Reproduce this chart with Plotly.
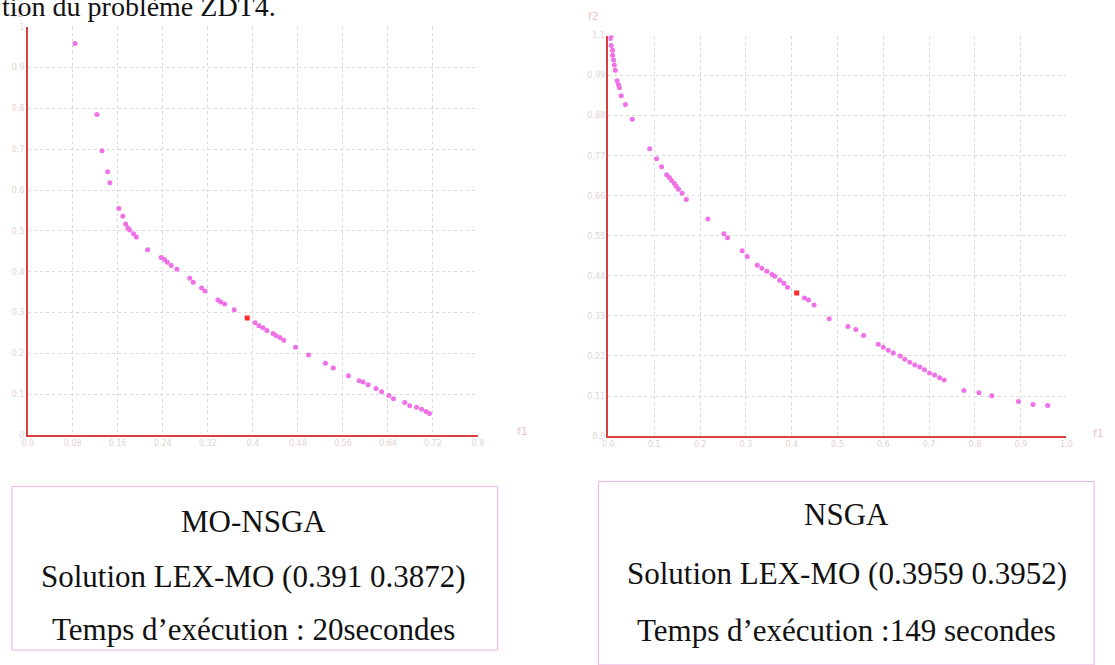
import plotly.graph_objects as go

W, H = 1115, 665

# ---------------- data ----------------
mo_f1 = [0.084, 0.123, 0.132, 0.142, 0.146, 0.162, 0.169, 0.174, 0.178, 0.181, 0.188, 0.193,
         0.213, 0.237, 0.243, 0.248, 0.255, 0.265, 0.288, 0.294, 0.309, 0.315, 0.338, 0.343,
         0.350, 0.367, 0.404, 0.411, 0.418, 0.425, 0.436, 0.441, 0.448, 0.455, 0.476, 0.499,
         0.529, 0.543, 0.570, 0.589, 0.596, 0.605, 0.619, 0.629, 0.642, 0.650, 0.670, 0.679,
         0.691, 0.700, 0.708, 0.714]
mo_f2 = [0.959, 0.785, 0.696, 0.645, 0.618, 0.555, 0.536, 0.517, 0.507, 0.502, 0.493, 0.485,
         0.454, 0.435, 0.430, 0.423, 0.415, 0.406, 0.384, 0.374, 0.360, 0.353, 0.331, 0.326,
         0.321, 0.307, 0.275, 0.268, 0.263, 0.256, 0.249, 0.244, 0.239, 0.232, 0.215, 0.196,
         0.176, 0.164, 0.145, 0.133, 0.130, 0.123, 0.114, 0.106, 0.097, 0.089, 0.080, 0.072,
         0.068, 0.063, 0.058, 0.053]
mo_lex = [0.390, 0.287]

ns_f1 = [0.006, 0.004, 0.006, 0.009, 0.009, 0.011, 0.013, 0.015, 0.019, 0.022, 0.024, 0.028,
         0.037, 0.052, 0.090, 0.105, 0.116, 0.127, 0.133, 0.138, 0.144, 0.148, 0.153, 0.161,
         0.170, 0.217, 0.252, 0.260, 0.292, 0.303, 0.325, 0.335, 0.346, 0.357, 0.363, 0.374,
         0.383, 0.391, 0.428, 0.437, 0.449, 0.482, 0.523, 0.540, 0.557, 0.589, 0.600, 0.611,
         0.622, 0.637, 0.647, 0.658, 0.669, 0.680, 0.690, 0.701, 0.712, 0.723, 0.733, 0.776,
         0.809, 0.837, 0.895, 0.927, 0.959]
ns_f2 = [1.100, 1.092, 1.073, 1.060, 1.046, 1.033, 1.019, 1.005, 0.976, 0.965, 0.957, 0.935,
         0.911, 0.870, 0.789, 0.762, 0.740, 0.718, 0.710, 0.702, 0.694, 0.686, 0.678, 0.667,
         0.650, 0.596, 0.556, 0.545, 0.509, 0.493, 0.469, 0.461, 0.453, 0.444, 0.439, 0.428,
         0.420, 0.409, 0.379, 0.374, 0.360, 0.322, 0.301, 0.293, 0.276, 0.252, 0.244, 0.236,
         0.228, 0.220, 0.211, 0.203, 0.195, 0.190, 0.182, 0.173, 0.168, 0.160, 0.154, 0.125,
         0.119, 0.111, 0.095, 0.087, 0.084]
ns_lex = [0.411, 0.393]

mo_xticks = [0.0, 0.08, 0.16, 0.24, 0.32, 0.4, 0.48, 0.56, 0.64, 0.72, 0.8]
mo_xlabels = ["0.0", "0.08", "0.16", "0.24", "0.32", "0.4", "0.48", "0.56", "0.64", "0.72", "0.8"]
mo_yticks = [0.0, 0.1, 0.2, 0.3, 0.4, 0.5, 0.6, 0.7, 0.8, 0.9, 1.0]
mo_ylabels = ["0", "0.1", "0.2", "0.3", "0.4", "0.5", "0.6", "0.7", "0.8", "0.9", "1"]
ns_xticks = [0.0, 0.1, 0.2, 0.3, 0.4, 0.5, 0.6, 0.7, 0.8, 0.9, 1.0]
ns_xlabels = ["0.0", "0.1", "0.2", "0.3", "0.4", "0.5", "0.6", "0.7", "0.8", "0.9", "1.0"]
ns_yticks = [0.0, 0.11, 0.22, 0.33, 0.44, 0.55, 0.66, 0.77, 0.88, 0.99, 1.1]
ns_ylabels = ["0.0", "0.11", "0.22", "0.33", "0.44", "0.55", "0.66", "0.77", "0.88", "0.99", "1.1"]

box_left = ["MO-NSGA", "Solution LEX-MO (0.391 0.3872)", "Temps d\u2019ex\u00e9cution : 20secondes"]
box_right = ["NSGA", "Solution LEX-MO (0.3959 0.3952)", "Temps d\u2019ex\u00e9cution :149 secondes"]
header = "tion du probl\u00e8me ZDT4."

# ---------------- helpers (pixel -> paper) ----------------
def px(x):
    return x / W

def py(y):
    return 1 - y / H

PT = "#f070e8"
RED = "#ff2a2a"
TICK = "#e2d2d2"
GRID = "#dadada"

fig = go.Figure()
fig.add_trace(go.Scatter(x=mo_f1, y=mo_f2, mode="markers", xaxis="x", yaxis="y",
                         marker=dict(color=PT, size=5, line=dict(width=0))))
fig.add_trace(go.Scatter(x=[mo_lex[0]], y=[mo_lex[1]], mode="markers", xaxis="x", yaxis="y",
                         marker=dict(color=RED, size=5, symbol="square", line=dict(width=0))))
fig.add_trace(go.Scatter(x=ns_f1, y=ns_f2, mode="markers", xaxis="x2", yaxis="y2",
                         marker=dict(color=PT, size=5, line=dict(width=0))))
fig.add_trace(go.Scatter(x=[ns_lex[0]], y=[ns_lex[1]], mode="markers", xaxis="x2", yaxis="y2",
                         marker=dict(color=RED, size=5, symbol="square", line=dict(width=0))))

axcommon = dict(showgrid=True, gridcolor=GRID, griddash="dot", gridwidth=1, zeroline=False,
                showline=True, linecolor="#d94040", linewidth=1.5, ticks="",
                tickfont=dict(family="DejaVu Sans", size=8, color=TICK))

fig.update_layout(
    width=W, height=H, margin=dict(l=0, r=0, t=0, b=0),
    paper_bgcolor="white", plot_bgcolor="white", showlegend=False,
    xaxis=dict(domain=[px(22), px(477)], range=[0, 0.8], tickvals=mo_xticks, ticktext=mo_xlabels,
               anchor="y", **axcommon),
    yaxis=dict(domain=[py(437), py(23)], range=[0, 1.0], tickvals=mo_yticks, ticktext=mo_ylabels,
               anchor="x", **axcommon),
    xaxis2=dict(domain=[px(609), px(1072)], range=[0, 1.0], tickvals=ns_xticks, ticktext=ns_xlabels,
                anchor="y2", **axcommon),
    yaxis2=dict(domain=[py(438), py(32)], range=[0, 1.1], tickvals=ns_yticks, ticktext=ns_ylabels,
                anchor="x2", **axcommon),
)

ann = []
# axis names
for (x, y, t) in [(13, 10, "f2"), (522, 433, "f1"), (594, 13, "f2"), (1104, 435, "f1")]:
    ann.append(dict(x=px(x), y=py(y), xref="paper", yref="paper", text=t, showarrow=False,
                    xanchor="center", yanchor="middle",
                    font=dict(family="DejaVu Sans", size=11, color="#eac4c4")))

# header fragment (cut at top)
ann.append(dict(x=px(-6), y=py(20), xref="paper", yref="paper", xanchor="left", yanchor="bottom",
                text=header, showarrow=False,
                font=dict(family="Liberation Serif", size=28, color="#111111")))

# text boxes
for cx, ys, lines in [(250, [525, 580, 634], box_left), (850, [518, 577, 635], box_right)]:
    for yy, t in zip(ys, lines):
        ann.append(dict(x=px(cx), y=py(yy), xref="paper", yref="paper", text=t, showarrow=False,
                        xanchor="center", yanchor="middle",
                        font=dict(family="Liberation Serif", size=31, color="#111111")))

fig.update_layout(annotations=ann)

shapes = [
    dict(type="rect", xref="paper", yref="paper", x0=px(6), x1=px(497), y0=py(655), y1=py(489),
         line=dict(color="#eab2e6", width=1)),
    dict(type="rect", xref="paper", yref="paper", x0=px(599), x1=px(1100), y0=py(670), y1=py(484),
         line=dict(color="#eab2e6", width=1)),
]
fig.update_layout(shapes=shapes)

fig.write_html("out.html")
